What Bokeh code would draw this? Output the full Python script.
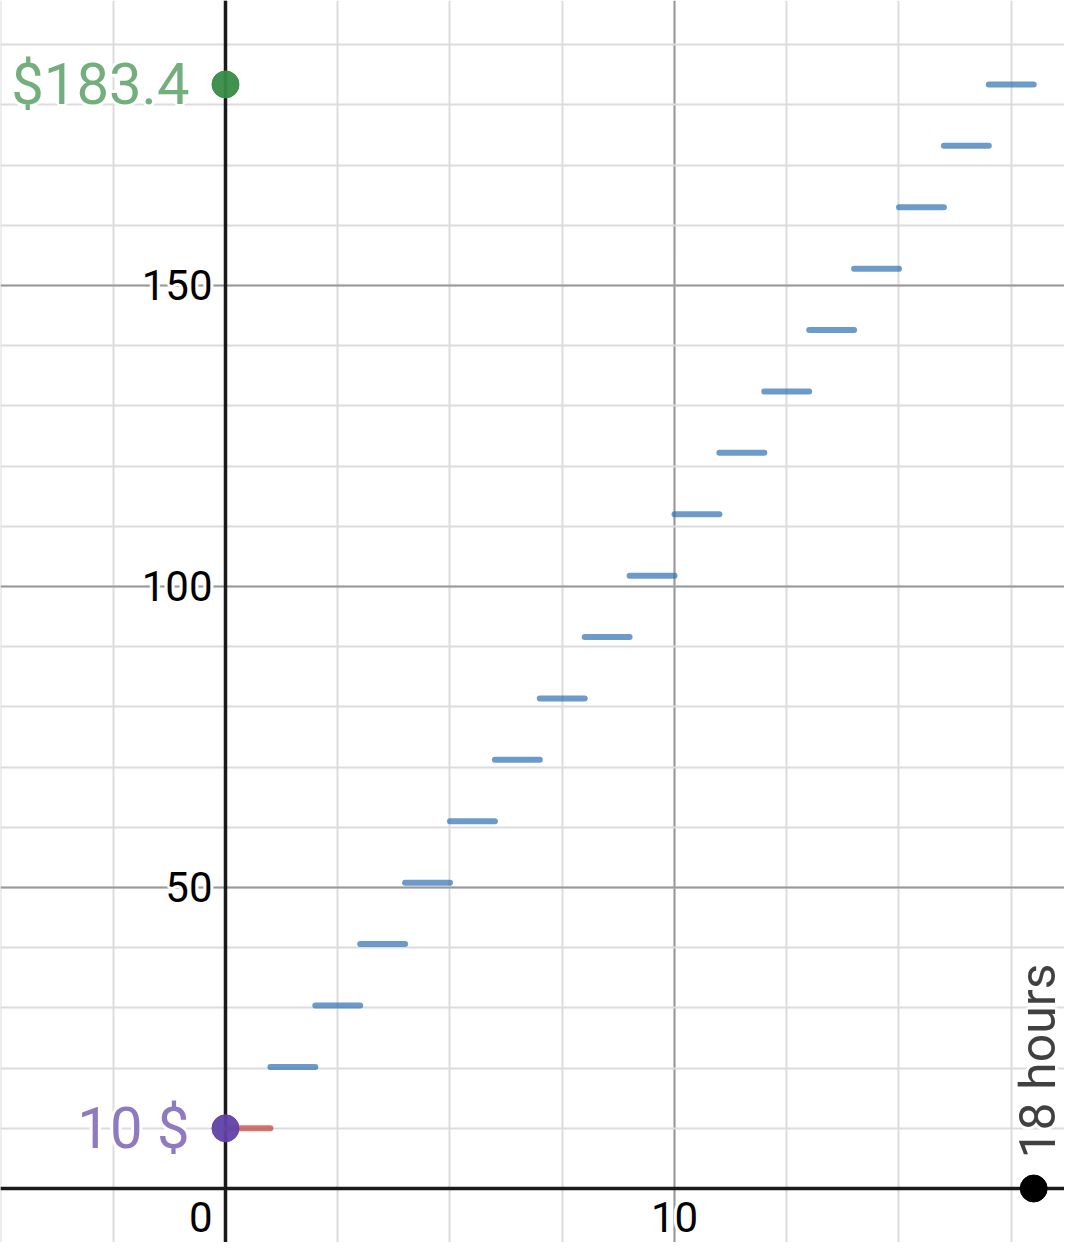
from bokeh.plotting import figure
from bokeh.models import Span, SingleIntervalTicker, Grid, ColumnDataSource
from bokeh.core.properties import value
from bokeh.embed import file_html
from bokeh.resources import INLINE

# ---- data ----
initial_cost = 10
initial_x0 = [0]
initial_x1 = [1]
initial_y = [10]

step_x0 = [1, 2, 3, 4, 5, 6, 7, 8, 9, 10, 11, 12, 13, 14, 15, 16, 17]
step_x1 = [2, 3, 4, 5, 6, 7, 8, 9, 10, 11, 12, 13, 14, 15, 16, 17, 18]
step_y = [20.2, 30.4, 40.6, 50.8, 61.0, 71.2, 81.4, 91.6, 101.8, 112.0,
          122.2, 132.4, 142.6, 152.8, 163.0, 173.2, 183.4]

final_total = 183.4
hours = 18

y_ticks = [50, 100, 150, 200]
y_tick_labels = ["50", "100", "150", "200"]
x_ticks = [10]
x_tick_labels = ["10"]

FONT = value("Roboto")

p = figure(width=1064, height=1242,
           x_range=(-5.011, 18.686), y_range=(-8.97, 197.34),
           output_backend="svg", toolbar_location=None,
           x_axis_location=None, y_axis_location=None,
           min_border=0, outline_line_color=None,
           background_fill_color="white", border_fill_color="white")

for g in p.grid:
    g.visible = False

xg = Grid(dimension=0, ticker=SingleIntervalTicker(interval=10, num_minor_ticks=4),
          grid_line_color="#9a9a9a", grid_line_width=2,
          minor_grid_line_color="#dcdcdc", minor_grid_line_width=2)
yg = Grid(dimension=1, ticker=SingleIntervalTicker(interval=50, num_minor_ticks=5),
          grid_line_color="#9a9a9a", grid_line_width=2,
          minor_grid_line_color="#dcdcdc", minor_grid_line_width=2)
p.add_layout(xg, "center")
p.add_layout(yg, "center")

p.add_layout(Span(location=0, dimension="width", line_color="#1a1a1a", line_width=3.5, level="underlay"))
p.add_layout(Span(location=0, dimension="height", line_color="#1a1a1a", line_width=3.5, level="underlay"))

halo = [(-2, -2), (-2, 0), (-2, 2), (0, -2), (0, 2), (2, -2), (2, 0), (2, 2), (-3, 0), (3, 0), (0, -3), (0, 3)]


def halo_text(x, y, text, color, size, align, baseline, xo=0, yo=0, angle=0.0, alpha=1.0):
    src = ColumnDataSource(dict(x=x, y=y, text=text))
    for dx, dy in halo:
        p.text("x", "y", text="text", source=src, text_font=FONT, text_font_size=size,
               text_color="white", text_align=align, text_baseline=baseline,
               x_offset=xo + dx, y_offset=yo + dy, angle=angle)
    p.text("x", "y", text="text", source=src, text_font=FONT, text_font_size=size,
           text_color=color, text_alpha=alpha, text_align=align, text_baseline=baseline,
           x_offset=xo, y_offset=yo, angle=angle)


# tick labels
halo_text([0] * len(y_ticks), y_ticks, y_tick_labels, "black", "42px", "right", "middle", xo=-13, yo=0)
halo_text(x_ticks, [0] * len(x_ticks), x_tick_labels, "black", "42px", "center", "top", xo=0, yo=13)
halo_text([0], [0], ["0"], "black", "42px", "right", "top", xo=-13, yo=13)

# step segments
p.segment(x0=initial_x0, y0=initial_y, x1=initial_x1, y1=initial_y,
          line_color="#c74440", line_alpha=0.75, line_width=6, line_cap="round")
p.segment(x0=step_x0, y0=step_y, x1=step_x1, y1=step_y,
          line_color="#2d70b3", line_alpha=0.7, line_width=6, line_cap="round")

# labelled points
halo_text([0], [final_total], ["$" + str(final_total)], "#388c46", "58px", "right", "middle",
          xo=-36, yo=0, alpha=0.7)
halo_text([0], [initial_cost], [str(initial_cost) + " $"], "#6042a6", "58px", "right", "middle",
          xo=-36, yo=0, alpha=0.7)
halo_text([hours], [0], [str(hours) + " hours"], "#000000", "50px", "left", "middle",
          xo=4, yo=-30, angle=1.5707963, alpha=0.75)

p.scatter([0], [final_total], size=27, color="#388c46", alpha=0.95)
p.scatter([0], [initial_cost], size=27, color="#6042a6", alpha=0.95)
p.scatter([hours], [0], size=27, color="#000000")

open("out.html", "w").write(file_html(p, INLINE))
